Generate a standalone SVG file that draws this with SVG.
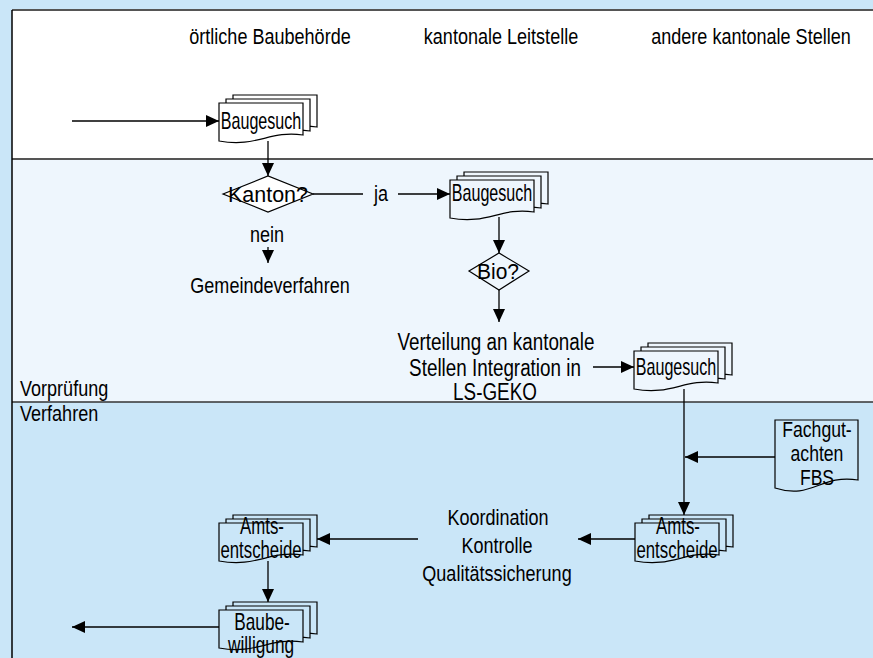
<svg xmlns="http://www.w3.org/2000/svg" width="873" height="658" viewBox="0 0 873 658">
<defs>
<marker id="ah" markerUnits="userSpaceOnUse" markerWidth="13" markerHeight="12" refX="13" refY="6" orient="auto">
<path d="M0,0 L13,6 L0,12 z" fill="#000"/>
</marker>
<path id="doc" d="M0,0 H84 V32 C50,27 38,45 0,38 Z"/>
</defs>
<style>
text{font-family:"Liberation Sans",Arial,sans-serif;font-size:22px;fill:#000;text-anchor:middle}
.lab{text-anchor:start}
.d{font-size:23px}
.big{font-size:23px}
.sheet{stroke:#000;stroke-width:1.2}
.w{fill:#fff}
.l2{fill:#eef6fd}
.l3{fill:#cae6f8}
.c{stroke:#000;stroke-width:1.3;fill:none}
.arr{marker-end:url(#ah)}
.dia{stroke:#000;stroke-width:1.2}
</style>
<rect x="0" y="0" width="873" height="658" fill="#cae6f8"/>
<rect x="12" y="10" width="861" height="149" fill="#fff"/>
<rect x="12" y="159" width="861" height="243" fill="#eef6fd"/>
<rect x="12" y="402" width="861" height="256" fill="#cae6f8"/>
<line x1="12" y1="10" x2="873" y2="10" stroke="#555" stroke-width="2"/>
<line x1="12" y1="159" x2="873" y2="159" stroke="#555" stroke-width="2"/>
<line x1="12" y1="402" x2="873" y2="402" stroke="#333" stroke-width="1.5"/>
<line x1="12" y1="10" x2="12" y2="658" stroke="#000" stroke-width="1.5"/>
<g id="headers">
<text transform="translate(270,44) scale(0.82,1)">örtliche Baubehörde</text>
<text transform="translate(501,44) scale(0.82,1)">kantonale Leitstelle</text>
<text transform="translate(751,44) scale(0.82,1)">andere kantonale Stellen</text>
</g>
<g id="lanes">
<text class="lab" transform="translate(20,396) scale(0.82,1)">Vorprüfung</text>
<text class="lab" transform="translate(20,421) scale(0.82,1)">Verfahren</text>
</g>
<g id="connectors">
<line class="c arr" x1="72" y1="121" x2="219" y2="121"/>
<line class="c arr" x1="268" y1="141" x2="268" y2="176"/>
<line class="c" x1="313" y1="194" x2="363" y2="194"/>
<line class="c arr" x1="398" y1="194" x2="450" y2="194"/>
<line class="c arr" x1="268" y1="247" x2="268" y2="263"/>
<line class="c arr" x1="499" y1="217" x2="499" y2="253"/>
<line class="c arr" x1="499" y1="290" x2="499" y2="322"/>
<line class="c arr" x1="593" y1="367" x2="634" y2="367"/>
<line class="c arr" x1="684" y1="389" x2="684" y2="515"/>
<line class="c arr" x1="775" y1="457" x2="685" y2="457"/>
<line class="c arr" x1="635" y1="539" x2="578" y2="539"/>
<line class="c arr" x1="418" y1="539" x2="317" y2="539"/>
<line class="c arr" x1="268" y1="561" x2="268" y2="602"/>
<line class="c arr" x1="219" y1="627" x2="72" y2="627"/>
<text transform="translate(381,201) scale(0.82,1)">ja</text>
<text transform="translate(267,242) scale(0.82,1)">nein</text>
</g>
<g id="baugesuch1">
<use href="#doc" x="233" y="95" class="sheet w"/>
<use href="#doc" x="226" y="99" class="sheet w"/>
<use href="#doc" x="219" y="103" class="sheet w"/>
<text class="d" transform="translate(261,129) scale(0.7,1)">Baugesuch</text>
</g>
<g id="kanton">
<polygon class="dia w" points="223,194 268,176 313,194 268,212"/>
<text x="268" y="202" font-size="23" textLength="80" lengthAdjust="spacingAndGlyphs">Kanton?</text>
</g>
<g id="gemeindeverfahren">
<text transform="translate(270,293) scale(0.82,1)">Gemeindeverfahren</text>
</g>
<g id="baugesuch2">
<use href="#doc" x="464" y="172" class="sheet l2"/>
<use href="#doc" x="457" y="176" class="sheet l2"/>
<use href="#doc" x="450" y="180" class="sheet l2"/>
<text class="d" transform="translate(492,201) scale(0.7,1)">Baugesuch</text>
</g>
<g id="bio">
<polygon class="dia l2" points="469,271 499,253 529,271 499,290"/>
<text x="498" y="279" font-size="23" textLength="42" lengthAdjust="spacingAndGlyphs">Bio?</text>
</g>
<g id="verteilung">
<text class="big" transform="translate(496,350) scale(0.82,1)">Verteilung an kantonale</text>
<text class="big" transform="translate(495,376) scale(0.82,1)">Stellen Integration in</text>
<text class="big" transform="translate(495,400) scale(0.82,1)">LS-GEKO</text>
</g>
<g id="baugesuch3">
<use href="#doc" x="648" y="343" class="sheet l2"/>
<use href="#doc" x="641" y="347" class="sheet l2"/>
<use href="#doc" x="634" y="351" class="sheet l2"/>
<text class="d" transform="translate(676,375) scale(0.7,1)">Baugesuch</text>
</g>
<g id="fachgutachten">
<path class="sheet l3" d="M775,420 H858 V480 C820,474 812,500 775,488 Z"/>
<text transform="translate(817,437) scale(0.8,1)">Fachgut-</text>
<text transform="translate(817,461) scale(0.8,1)">achten</text>
<text transform="translate(817,485) scale(0.8,1)">FBS</text>
</g>
<g id="amts-rechts">
<use href="#doc" x="649" y="515" class="sheet l3"/>
<use href="#doc" x="642" y="519" class="sheet l3"/>
<use href="#doc" x="635" y="523" class="sheet l3"/>
<text class="d" transform="translate(678,534) scale(0.73,1)">Amts-</text>
<text class="d" transform="translate(677,558) scale(0.73,1)">entscheide</text>
</g>
<g id="koordination">
<text transform="translate(498,525) scale(0.82,1)">Koordination</text>
<text transform="translate(497,553) scale(0.82,1)">Kontrolle</text>
<text transform="translate(497,581) scale(0.82,1)">Qualitätssicherung</text>
</g>
<g id="amts-links">
<use href="#doc" x="233" y="515" class="sheet l3"/>
<use href="#doc" x="226" y="519" class="sheet l3"/>
<use href="#doc" x="219" y="523" class="sheet l3"/>
<text class="d" transform="translate(262,534) scale(0.73,1)">Amts-</text>
<text class="d" transform="translate(261,558) scale(0.73,1)">entscheide</text>
</g>
<g id="baubewilligung">
<use href="#doc" x="233" y="602" class="sheet l3"/>
<use href="#doc" x="226" y="606" class="sheet l3"/>
<use href="#doc" x="219" y="610" class="sheet l3"/>
<text class="d" transform="translate(262,630) scale(0.75,1)">Baube-</text>
<text class="d" transform="translate(261,653) scale(0.75,1)">willigung</text>
</g>
</svg>
